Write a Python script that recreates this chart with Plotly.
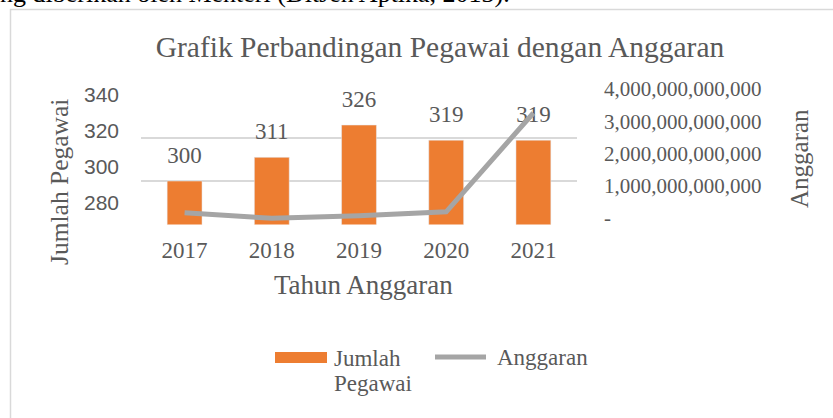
import plotly.graph_objects as go

# ---- data ----
years = ["2017", "2018", "2019", "2020", "2021"]
pegawai = [300, 311, 326, 319, 319]
anggaran = [0.35e12, 0.18e12, 0.26e12, 0.38e12, 3.44e12]
right_tick_vals = [0, 1e12, 2e12, 3e12, 4e12]
right_tick_text = ["-", "1,000,000,000,000", "2,000,000,000,000",
                   "3,000,000,000,000", "4,000,000,000,000"]
left_tick_vals = [280, 300, 320, 340]

W, H = 833, 418
SERIF = "Liberation Serif, Times New Roman, serif"
SANS = "Liberation Sans, Arial, sans-serif"
GREY = "#595959"
ORANGE = "#ED7D31"
LINEGREY = "#A5A5A5"


def px(x):
    return x / W


def py(y):
    return 1 - y / H


fig = go.Figure()
fig.add_trace(go.Bar(x=years, y=pegawai, marker_color=ORANGE, width=0.4,
                     name="Jumlah Pegawai", showlegend=False, yaxis="y"))
fig.add_trace(go.Scatter(x=years, y=anggaran, mode="lines",
                         line=dict(color=LINEGREY, width=5),
                         name="Anggaran", showlegend=False, yaxis="y2"))
# data labels above the bars
fig.add_trace(go.Scatter(x=years, y=pegawai, mode="markers+text",
                         text=[str(v) for v in pegawai],
                         textposition="top center", cliponaxis=False,
                         marker=dict(size=18, opacity=0),
                         textfont=dict(family=SERIF, size=23, color=GREY),
                         showlegend=False, hoverinfo="skip", yaxis="y"))
# empty traces so the label-only axes are drawn
fig.add_trace(go.Scatter(x=[], y=[], yaxis="y3", showlegend=False))
fig.add_trace(go.Scatter(x=[], y=[], yaxis="y4", showlegend=False))

annotations = []
# axis titles
annotations.append(dict(x=px(60), y=py(182), xref="paper", yref="paper",
                        xanchor="center", yanchor="middle",
                        text="Jumlah Pegawai", textangle=-90, showarrow=False,
                        font=dict(family=SERIF, size=25.5, color=GREY)))
annotations.append(dict(x=px(800), y=py(159), xref="paper", yref="paper",
                        xanchor="center", yanchor="middle",
                        text="Anggaran", textangle=-90, showarrow=False,
                        font=dict(family=SERIF, size=25, color=GREY)))
annotations.append(dict(x=px(363), y=py(285), xref="paper", yref="paper",
                        xanchor="center", yanchor="middle",
                        text="Tahun Anggaran", showarrow=False,
                        font=dict(family=SERIF, size=27, color=GREY)))
# text of the document above the chart (cut off)
annotations.append(dict(x=px(-2), y=py(10), xref="paper", yref="paper",
                        xanchor="left", yanchor="bottom",
                        text="ng diberikan oleh Menteri (DitJen Aptika, 2013).",
                        showarrow=False,
                        font=dict(family=SERIF, size=26, color="black")))
# custom legend labels
annotations.append(dict(x=px(332), y=py(358), xref="paper", yref="paper",
                        xanchor="left", yanchor="middle", align="left",
                        text="Jumlah", showarrow=False,
                        font=dict(family=SERIF, size=23, color=GREY)))
annotations.append(dict(x=px(332), y=py(383), xref="paper", yref="paper",
                        xanchor="left", yanchor="middle", align="left",
                        text="Pegawai", showarrow=False,
                        font=dict(family=SERIF, size=23, color=GREY)))
annotations.append(dict(x=px(495), y=py(357), xref="paper", yref="paper",
                        xanchor="left", yanchor="middle", align="left",
                        text="Anggaran", showarrow=False,
                        font=dict(family=SERIF, size=23, color=GREY)))

shapes = [
    # chart frame
    dict(type="rect", xref="paper", yref="paper",
         x0=px(10.5), x1=px(900), y0=py(460), y1=py(9.5),
         line=dict(color="#D9D9D9", width=1.5)),
    # legend keys
    dict(type="rect", xref="paper", yref="paper",
         x0=px(275), x1=px(327), y0=py(363), y1=py(352),
         fillcolor=ORANGE, line=dict(width=0)),
    dict(type="line", xref="paper", yref="paper",
         x0=px(435), x1=px(486), y0=py(357), y1=py(357),
         line=dict(color=LINEGREY, width=5)),
]

fig.update_layout(
    width=W, height=H,
    margin=dict(l=0, r=0, t=0, b=0, pad=0),
    paper_bgcolor="white", plot_bgcolor="rgba(0,0,0,0)",
    bargap=0.6,
    showlegend=False,
    title=dict(text="Grafik Perbandingan Pegawai dengan Anggaran",
               x=px(440), y=py(47), xanchor="center", yanchor="middle",
               xref="paper", yref="paper", automargin=False,
               font=dict(family=SERIF, size=29.5, color=GREY)),
    xaxis=dict(domain=[px(141), px(577)], type="category", anchor="y",
               range=[-0.5, 4.5], automargin=False, ticklabelstandoff=9,
               showline=False, showgrid=False, ticks="",
               tickfont=dict(family=SERIF, size=23, color=GREY)),
    yaxis=dict(domain=[py(224.5), py(94.5)], range=[279.8, 340.2],
               automargin=False,
               tickvals=left_tick_vals, showticklabels=False,
               showgrid=True, gridcolor="#D9D9D9", gridwidth=2,
               zeroline=False, showline=False, ticks=""),
    yaxis2=dict(overlaying="y", side="right", range=[-0.013e12, 4.013e12],
                automargin=False,
                showgrid=False, showticklabels=False, zeroline=False,
                showline=False, ticks=""),
    yaxis3=dict(domain=[py(203), py(95)], range=[280, 340], automargin=False,
                tickvals=left_tick_vals, anchor="free", position=px(119),
                side="left", showgrid=False, zeroline=False, showline=False,
                ticks="", tickfont=dict(family=SANS, size=21, color=GREY)),
    yaxis4=dict(domain=[py(218), py(89)], range=[0, 4e12], automargin=False,
                tickvals=right_tick_vals, ticktext=right_tick_text,
                anchor="free", position=px(603), side="right",
                showgrid=False, zeroline=False, showline=False, ticks="",
                tickfont=dict(family=SERIF, size=21, color=GREY)),
    annotations=annotations,
    shapes=shapes,
)

fig.write_html("out.html", config={"displayModeBar": False},
               post_script="document.body.style.margin='0';"
                           "document.body.style.padding='0';")
